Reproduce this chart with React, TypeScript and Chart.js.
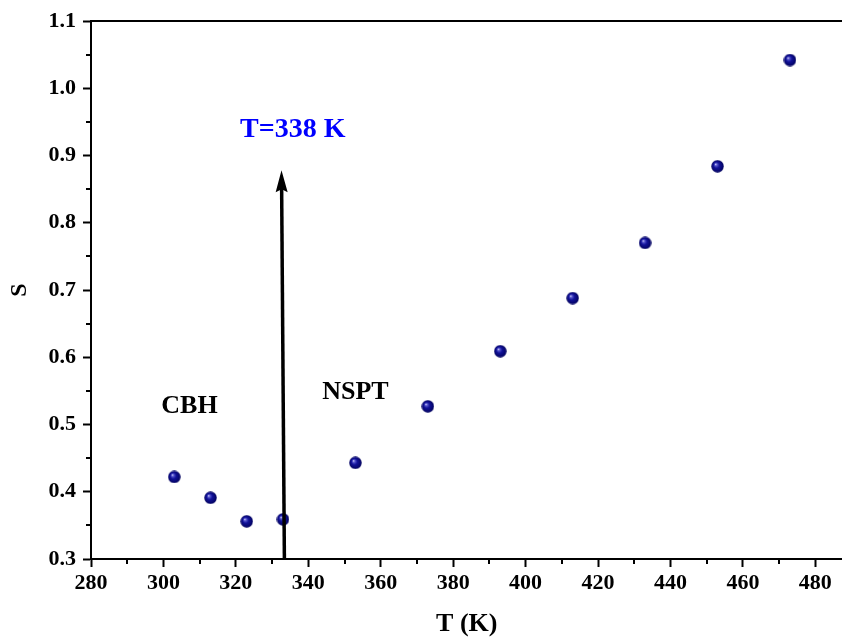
import React, { useEffect, useRef } from "react";
import { Chart, registerables } from "chart.js";

Chart.register(...registerables);

// Temperature (K) and the corresponding S values
const temperatures = [303, 313, 323, 333, 353, 373, 393, 413, 433, 453, 473];
const sValues = [0.422, 0.391, 0.356, 0.359, 0.443, 0.527, 0.609, 0.688, 0.770, 0.884, 1.042];

// Axis ranges and labelled tick values
const xRange = [280, 487.5];
const yRange = [0.3, 1.1];
const xTickValues = [280, 300, 320, 340, 360, 380, 400, 420, 440, 460, 480];
const yTickValues = [0.3, 0.4, 0.5, 0.6, 0.7, 0.8, 0.9, 1.0, 1.1];

// Transition marker (arrow) and the region labels
const arrowStart = { x: 333.4, y: 0.3 };
const arrowTip = { x: 332.6, y: 0.878 };
const transitionLabel = "T=338 K";
const transitionLabelPos = { x: 335.7, y: 0.939 };
const regionLabels = [
  { text: "CBH", x: 307.2, y: 0.527 },
  { text: "NSPT", x: 353.0, y: 0.548 },
];

const SERIF = "'Liberation Serif', 'Times New Roman', serif";

function makeSphere(d: number): HTMLCanvasElement {
  const c = document.createElement("canvas");
  c.width = d;
  c.height = d;
  const g = c.getContext("2d")!;
  const r = d / 2;
  const grad = g.createRadialGradient(r - 2, r - 2.2, 0, r, r, r);
  grad.addColorStop(0, "#e8e8ff");
  grad.addColorStop(0.18, "#5a5ad0");
  grad.addColorStop(0.45, "#12129a");
  grad.addColorStop(1, "#00005a");
  g.fillStyle = grad;
  g.beginPath();
  g.arc(r, r, r - 0.3, 0, Math.PI * 2);
  g.fill();
  return c;
}

const framePlugin = {
  id: "frameAndNotes",
  afterDatasetsDraw(chart: any) {
    const { ctx, chartArea, scales } = chart;
    const xs = scales.x;
    const ys = scales.y;
    ctx.save();
    ctx.strokeStyle = "#000";
    ctx.lineWidth = 2;
    // top frame line
    ctx.beginPath();
    ctx.moveTo(chartArea.left, chartArea.top);
    ctx.lineTo(chartArea.right, chartArea.top);
    ctx.stroke();
    // minor ticks halfway between labelled ticks
    for (let i = 0; i < xTickValues.length; i++) {
      const v = xTickValues[i] + (xTickValues[1] - xTickValues[0]) / 2;
      if (v > xRange[1]) break;
      const px = Math.round(xs.getPixelForValue(v));
      ctx.beginPath();
      ctx.moveTo(px, chartArea.bottom);
      ctx.lineTo(px, chartArea.bottom + 5);
      ctx.stroke();
    }
    for (let i = 0; i < yTickValues.length - 1; i++) {
      const v = (yTickValues[i] + yTickValues[i + 1]) / 2;
      const py = Math.round(ys.getPixelForValue(v));
      ctx.beginPath();
      ctx.moveTo(chartArea.left, py);
      ctx.lineTo(chartArea.left - 5, py);
      ctx.stroke();
    }

    // transition arrow
    const x0 = xs.getPixelForValue(arrowStart.x);
    const y0 = ys.getPixelForValue(arrowStart.y);
    const x1 = xs.getPixelForValue(arrowTip.x);
    const y1 = ys.getPixelForValue(arrowTip.y);
    const headLen = 22;
    const headHalf = 6;
    const ang = Math.atan2(y1 - y0, x1 - x0);
    const bx = x1 - headLen * Math.cos(ang);
    const by = y1 - headLen * Math.sin(ang);
    ctx.lineWidth = 3.5;
    ctx.beginPath();
    ctx.moveTo(x0, y0);
    ctx.lineTo(bx + 4 * Math.cos(ang), by + 4 * Math.sin(ang));
    ctx.stroke();
    ctx.fillStyle = "#000";
    ctx.beginPath();
    ctx.moveTo(x1, y1);
    ctx.lineTo(bx + headHalf * Math.sin(ang), by - headHalf * Math.cos(ang));
    ctx.lineTo(bx + 3 * Math.cos(ang), by + 3 * Math.sin(ang));
    ctx.lineTo(bx - headHalf * Math.sin(ang), by + headHalf * Math.cos(ang));
    ctx.closePath();
    ctx.fill();

    // labels
    ctx.textAlign = "center";
    ctx.textBaseline = "middle";
    ctx.fillStyle = "#0000ff";
    ctx.font = `bold 28px ${SERIF}`;
    ctx.fillText(
      transitionLabel,
      xs.getPixelForValue(transitionLabelPos.x),
      ys.getPixelForValue(transitionLabelPos.y)
    );
    ctx.fillStyle = "#000";
    ctx.font = `bold 26px ${SERIF}`;
    for (const l of regionLabels) {
      ctx.fillText(l.text, xs.getPixelForValue(l.x), ys.getPixelForValue(l.y));
    }
    ctx.restore();
  },
};

export default function App() {
  const ref = useRef<HTMLCanvasElement | null>(null);

  useEffect(() => {
    if (!ref.current) return;
    const sphere = makeSphere(13);
    const chart = new Chart(ref.current, {
      type: "scatter",
      data: {
        datasets: [
          {
            data: temperatures.map((t, i) => ({ x: t, y: sValues[i] })),
            pointStyle: sphere as any,
            pointRadius: 6.5,
            pointHoverRadius: 6.5,
            clip: false as any,
          },
        ],
      },
      options: {
        animation: false,
        responsive: false,
        events: [],
        layout: { padding: { top: 21, right: 0, left: 0, bottom: 0 } },
        plugins: { legend: { display: false }, tooltip: { enabled: false } },
        scales: {
          x: {
            type: "linear",
            min: xRange[0],
            max: xRange[1],
            afterBuildTicks: (s: any) => {
              s.ticks = xTickValues.map((v) => ({ value: v }));
            },
            afterFit: (s: any) => {
              s.height = 83;
              s.paddingRight = 0;
            },
            ticks: {
              color: "#000",
              padding: 3,
              maxRotation: 0,
              autoSkip: false,
              font: { family: SERIF, size: 22, weight: "bold" },
            },
            grid: {
              drawOnChartArea: false,
              drawTicks: true,
              tickLength: 8,
              tickWidth: 2,
              tickColor: "#000",
            },
            border: { display: true, color: "#000", width: 2 },
            title: {
              display: true,
              text: "T (K)",
              color: "#000",
              padding: { top: 0, bottom: 2 },
              font: { family: SERIF, size: 26, weight: "bold" },
            },
          },
          y: {
            type: "linear",
            min: yRange[0],
            max: yRange[1],
            afterBuildTicks: (s: any) => {
              s.ticks = yTickValues.map((v) => ({ value: v }));
            },
            afterFit: (s: any) => {
              s.width = 91;
            },
            ticks: {
              color: "#000",
              padding: 7,
              autoSkip: false,
              callback: (v: any) => Number(v).toFixed(1),
              font: { family: SERIF, size: 22, weight: "bold" },
            },
            grid: {
              drawOnChartArea: false,
              drawTicks: true,
              tickLength: 8,
              tickWidth: 2,
              tickColor: "#000",
            },
            border: { display: true, color: "#000", width: 2 },
            title: {
              display: true,
              text: "S",
              color: "#000",
              padding: { top: 5, bottom: 0 },
              font: { family: SERIF, size: 24, weight: "bold" },
            },
          },
        },
      },
      plugins: [framePlugin],
    });
    return () => chart.destroy();
  }, []);

  // The plot frame runs off the right edge, so the canvas is a little wider than the visible box.
  return (
    <div style={{ position: "fixed", left: 0, top: 0, width: 842, height: 642, background: "#fff", overflow: "hidden" }}>
      <canvas ref={ref} width={850} height={642} style={{ display: "block" }} />
    </div>
  );
}
